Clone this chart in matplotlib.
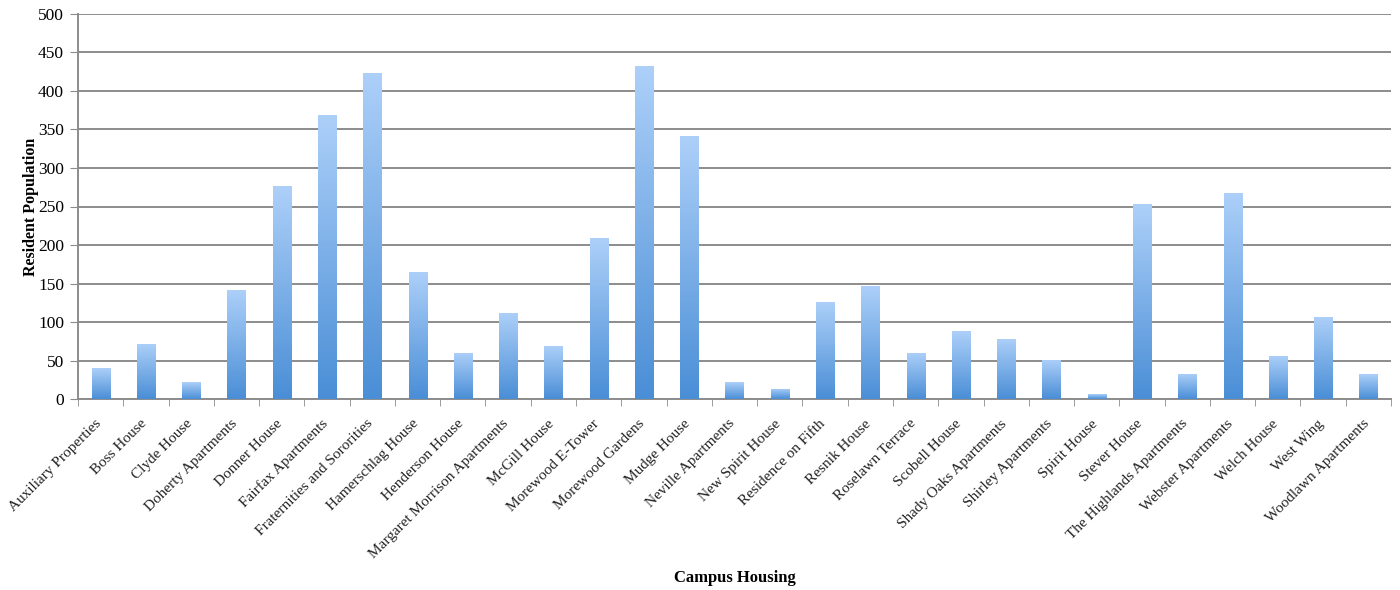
import matplotlib.pyplot as plt
import numpy as np
from matplotlib.colors import LinearSegmentedColormap
from matplotlib.transforms import ScaledTranslation

halls = ['Auxiliary Properties', 'Boss House', 'Clyde House', 'Doherty Apartments',
         'Donner House', 'Fairfax Apartments', 'Fraternities and Sororities',
         'Hamerschlag House', 'Henderson House', 'Margaret Morrison Apartments',
         'McGill House', 'Morewood E-Tower', 'Morewood Gardens', 'Mudge House',
         'Neville Apartments', 'New Spirit House', 'Residence on Fifth', 'Resnik House',
         'Roselawn Terrace', 'Scobell House', 'Shady Oaks Apartments', 'Shirley Apartments',
         'Spirit House', 'Stever House', 'The Highlands Apartments', 'Webster Apartments',
         'Welch House', 'West Wing', 'Woodlawn Apartments']
residents = [40, 72, 22, 142, 276, 369, 424, 165, 60, 112, 69, 209, 432, 341,
             22, 13, 126, 147, 60, 88, 78, 51, 6, 253, 33, 268, 56, 107, 32]
y_ticks = [0, 50, 100, 150, 200, 250, 300, 350, 400, 450, 500]

plt.rcParams['font.family'] = ['Liberation Serif', 'DejaVu Serif']

fig = plt.figure(figsize=(14, 5.9), dpi=100)
ax = fig.add_axes([0.0557, 0.3237, 0.9379, 0.6526])

x = np.arange(len(halls))
bars = ax.bar(x, residents, width=0.4, color='none', edgecolor='none', zorder=3)

# vertical blue gradient inside every bar
blue = LinearSegmentedColormap.from_list('blue', ['#4a8ed6', '#add0f9'])
grad = np.linspace(0, 1, 256).reshape(-1, 1)
for b in bars:
    x0, w, h = b.get_x(), b.get_width(), b.get_height()
    im = ax.imshow(grad, cmap=blue, origin='lower', aspect='auto',
                   extent=[x0, x0 + w, 0, h], zorder=3)
    im.set_clip_path(b)

ax.set_xlim(-0.5, len(halls) - 0.5)
ax.set_ylim(0, 500)
ax.set_yticks(y_ticks)
ax.tick_params(axis='y', labelsize=12.5, length=6, color='#8c8c8c', pad=4)
ax.grid(axis='y', color='#8c8c8c', linewidth=1.4, zorder=1)

ax.set_xticks(x)
ax.set_xticklabels(halls, rotation=45, ha='right', va='top', rotation_mode='anchor',
                   fontsize=11, color='#222222')
ax.tick_params(axis='x', which='major', length=0, pad=13)
ax.set_xticks(np.arange(-0.5, len(halls)), minor=True)
ax.tick_params(axis='x', which='minor', length=5, color='#8c8c8c')

# nudge the slanted labels a little to the left
shift = ScaledTranslation(-0.06, 0, fig.dpi_scale_trans)
for lbl in ax.get_xticklabels():
    lbl.set_transform(lbl.get_transform() + shift)

for s in ['top', 'right']:
    ax.spines[s].set_visible(False)
for s in ['left', 'bottom']:
    ax.spines[s].set_color('#8c8c8c')
    ax.spines[s].set_linewidth(1.4)

ax.set_ylabel('Resident Population', fontsize=11.5, fontweight='bold', labelpad=-1)
fig.text(0.525, 0.021, 'Campus Housing', ha='center', va='center', fontsize=12,
         fontweight='bold')

fig.savefig('out.png', dpi=100)
